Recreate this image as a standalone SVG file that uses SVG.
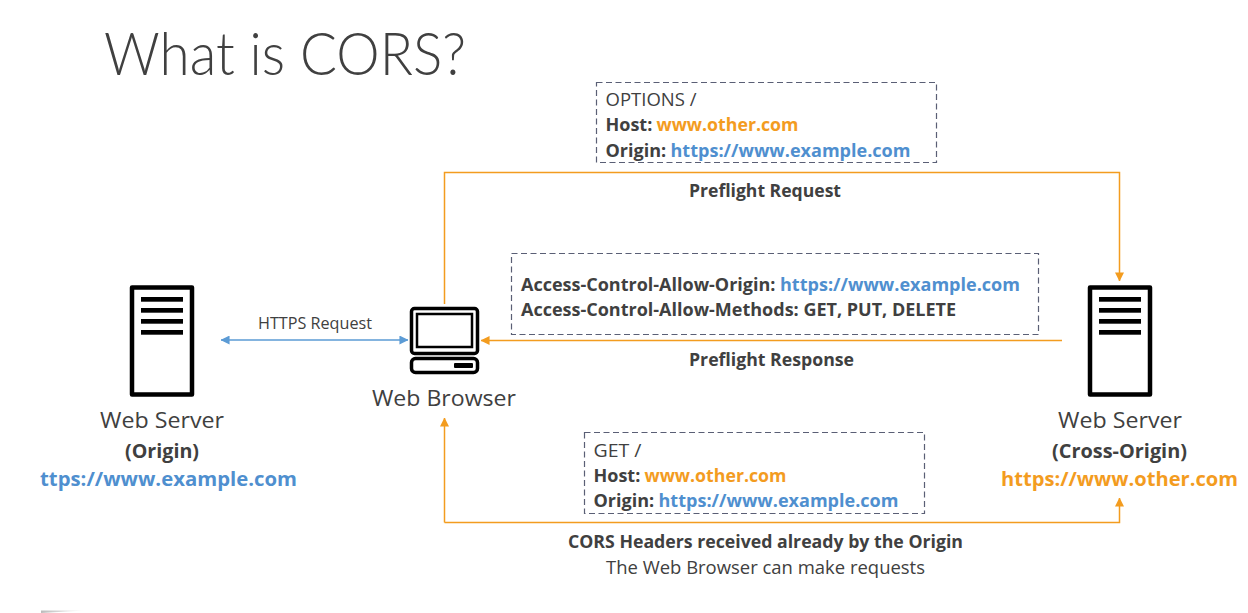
<svg xmlns="http://www.w3.org/2000/svg" width="1248" height="613" viewBox="0 0 1248 613">
<defs>
<marker id="ao" viewBox="0 0 10 10" refX="9.5" refY="5" markerWidth="9" markerHeight="9" markerUnits="userSpaceOnUse" orient="auto"><path d="M0 0L10 5L0 10Z" fill="#f39c1f"/></marker>
<marker id="ab" viewBox="0 0 10 10" refX="9.5" refY="5" markerWidth="9" markerHeight="9" markerUnits="userSpaceOnUse" orient="auto-start-reverse"><path d="M0 0L10 5L0 10Z" fill="#5b9bd5"/></marker>
<linearGradient id="g" x1="0" x2="1" y1="0" y2="0"><stop offset="0" stop-color="#bbb"/><stop offset="1" stop-color="#fff"/></linearGradient>
</defs>
<style>
text{font-family:"Open Sans","Noto Sans","DejaVu Sans",sans-serif;fill:#404040}
.s{font-size:16px}.m{font-size:18px}.l{font-size:22.5px}.k{font-size:20px}
.b{font-weight:700}
.o{fill:#f39c1f}.u{fill:#4f8fcf}
.box{fill:none;stroke:#5a5f75;stroke-width:1.2;stroke-dasharray:6 3.5}
.c{fill:none;stroke:#f39c1f;stroke-width:1.5}
.srv{fill:#fff;stroke:#000;stroke-width:4.5;stroke-linejoin:round}
.bar{fill:#000}
</style>
<rect width="1248" height="613" fill="#fff"/>
<path d="M41 610.500L85 610.500L41 613Z" fill="url(#g)"/>
<text id="title" x="104" y="75" textLength="362" lengthAdjust="spacingAndGlyphs" style="font-family:Lato,'Open Sans',sans-serif;font-weight:300;font-size:60px">What is CORS?</text>
<g id="connectors">
<path class="c" d="M444.500 304V172.500H1119.500V281" marker-end="url(#ao)"/>
<path class="c" d="M1062 340.500H481" marker-end="url(#ao)"/>
<path class="c" d="M444.500 522.500V418" marker-end="url(#ao)"/>
<path class="c" d="M444.500 522.500H1119.500V498" marker-end="url(#ao)"/>
<path d="M221 340H408" fill="none" stroke="#5b9bd5" stroke-width="1.5" marker-start="url(#ab)" marker-end="url(#ab)"/>
<text class="s" x="258" y="329" textLength="114" lengthAdjust="spacingAndGlyphs">HTTPS Request</text>
<text class="m b" x="689" y="197" textLength="152" lengthAdjust="spacingAndGlyphs">Preflight Request</text>
<text class="m b" x="689" y="366" textLength="165" lengthAdjust="spacingAndGlyphs">Preflight Response</text>
<text class="m b" x="568" y="548" textLength="395" lengthAdjust="spacingAndGlyphs">CORS Headers received already by the Origin</text>
<text class="m" x="606" y="574" textLength="319" lengthAdjust="spacingAndGlyphs">The Web Browser can make requests</text>
</g>
<g id="box-options">
<rect class="box" x="596.500" y="82.500" width="340" height="80"/>
<text class="m" x="605.500" y="106" textLength="91" lengthAdjust="spacingAndGlyphs">OPTIONS /</text>
<text class="m b" x="605.500" y="131">Host:</text>
<text class="m b o" x="656.500" y="131" textLength="142" lengthAdjust="spacingAndGlyphs">www.other.com</text>
<text class="m b" x="605.500" y="157">Origin:</text>
<text class="m b u" x="670.500" y="157" textLength="240" lengthAdjust="spacingAndGlyphs">https://www.example.com</text>
</g>
<g id="box-response">
<rect class="box" x="511.500" y="253.500" width="527" height="81"/>
<text class="m b" x="521" y="291">Access-Control-Allow-Origin:</text>
<text class="m b u" x="780" y="291" textLength="240" lengthAdjust="spacingAndGlyphs">https://www.example.com</text>
<text class="m b" x="521" y="316">Access-Control-Allow-Methods: GET, PUT, DELETE</text>
</g>
<g id="box-get">
<rect class="box" x="584.500" y="432.500" width="340" height="81"/>
<text class="m" x="593.500" y="457" textLength="48" lengthAdjust="spacingAndGlyphs">GET /</text>
<text class="m b" x="593.500" y="482">Host:</text>
<text class="m b o" x="644.500" y="482" textLength="142" lengthAdjust="spacingAndGlyphs">www.other.com</text>
<text class="m b" x="593.500" y="507">Origin:</text>
<text class="m b u" x="658.500" y="507" textLength="240" lengthAdjust="spacingAndGlyphs">https://www.example.com</text>
</g>
<g id="server-origin">
<rect class="srv" x="132" y="287.500" width="60" height="107"/>
<rect class="bar" x="141" y="297" width="42" height="4.700"/><rect class="bar" x="141" y="308" width="42" height="4.700"/><rect class="bar" x="141" y="319" width="42" height="4.700"/><rect class="bar" x="141" y="330" width="42" height="4.700"/>
<text class="l" x="100" y="428" textLength="124" lengthAdjust="spacingAndGlyphs">Web Server</text>
<text class="k b" x="125" y="458" textLength="74" lengthAdjust="spacingAndGlyphs">(Origin)</text>
<text class="k b u" x="40" y="486" textLength="257" lengthAdjust="spacingAndGlyphs">ttps://www.example.com</text>
</g>
<g id="browser">
<rect x="411.500" y="308.500" width="66" height="45" rx="3" fill="#fff" stroke="#000" stroke-width="3.500"/>
<rect x="417" y="314" width="55" height="33" fill="#fff" stroke="#000" stroke-width="2.500"/>
<rect x="411.500" y="358.500" width="66" height="14" rx="4" fill="#fff" stroke="#000" stroke-width="3.500"/>
<rect x="454" y="363" width="19" height="5" rx="1" fill="#000"/>
<text class="l" x="372" y="406" textLength="144" lengthAdjust="spacingAndGlyphs">Web Browser</text>
</g>
<g id="server-cross">
<rect class="srv" x="1090" y="287.500" width="60" height="107"/>
<rect class="bar" x="1099" y="297" width="42" height="4.700"/><rect class="bar" x="1099" y="308" width="42" height="4.700"/><rect class="bar" x="1099" y="319" width="42" height="4.700"/><rect class="bar" x="1099" y="330" width="42" height="4.700"/>
<text class="l" x="1058" y="428" textLength="124" lengthAdjust="spacingAndGlyphs">Web Server</text>
<text class="k b" x="1052" y="458" textLength="135" lengthAdjust="spacingAndGlyphs">(Cross-Origin)</text>
<text class="k b o" x="1001" y="486" textLength="237" lengthAdjust="spacingAndGlyphs">https://www.other.com</text>
</g>
</svg>
